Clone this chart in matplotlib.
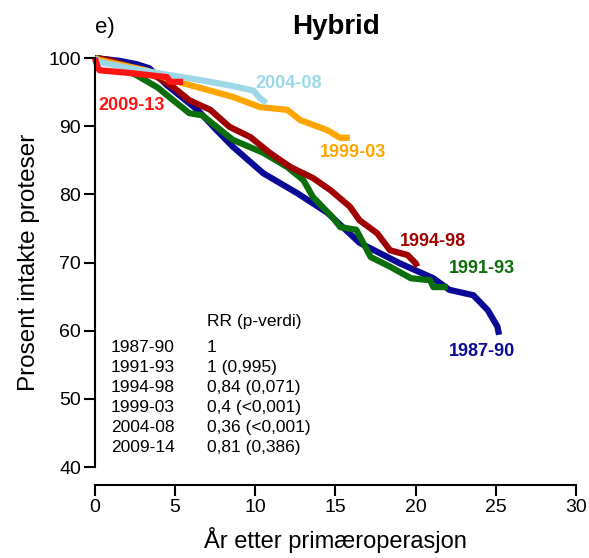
import matplotlib
matplotlib.use("Agg")
import matplotlib.pyplot as plt

plt.rcParams["font.family"] = ["Liberation Sans", "DejaVu Sans"]

# ── survival curves (years, percent intact) ──────────────────────────────────
x_8790 = [0, 1.5, 2.6, 3.4, 4.5, 6.4, 7.6, 8.6, 10.5, 12.6, 14.5, 16.5, 19.0, 21.1, 22.1, 23.6, 24.5, 25.1, 25.2]
y_8790 = [100, 99.6, 99.1, 98.5, 96.0, 92.4, 89.4, 87.0, 83.1, 80.2, 77.3, 72.9, 69.9, 67.7, 66.0, 65.2, 63.0, 60.6, 59.4]

x_9193 = [0, 0.9, 2.8, 3.9, 5.1, 5.9, 6.7, 7.6, 8.6, 10.1, 10.5, 12.0, 13.0, 13.6, 14.8, 15.3, 16.3, 17.2, 18.4, 19.7, 20.9, 21.1, 22.0]
y_9193 = [100, 99.7, 97.2, 95.7, 93.4, 91.9, 91.6, 89.9, 88.0, 86.5, 86.1, 84.0, 82.1, 79.6, 76.7, 75.2, 74.8, 70.8, 69.4, 67.7, 67.4, 66.4, 66.4]

x_9498 = [0, 0.9, 2.2, 3.9, 4.9, 5.9, 7.2, 8.4, 9.7, 10.9, 12.2, 13.6, 14.7, 15.9, 16.5, 17.6, 18.4, 19.5, 20.0, 20.1]
y_9498 = [100, 99.7, 98.7, 97.2, 95.7, 93.8, 92.4, 89.9, 88.4, 86.1, 84.0, 82.4, 80.6, 78.2, 76.2, 74.3, 71.8, 71.1, 69.9, 69.4]

x_9903 = [0, 0.3, 3.2, 4.7, 6.6, 8.6, 10.3, 12.0, 12.8, 13.6, 14.5, 15.3, 15.9]
y_9903 = [100, 99.7, 98.2, 96.8, 95.6, 94.3, 92.8, 92.4, 90.9, 90.2, 89.4, 88.3, 88.3]

x_0408 = [0, 0.3, 2.2, 4.9, 7.0, 9.0, 9.9, 10.3, 10.7]
y_0408 = [100, 99.4, 98.5, 97.4, 96.6, 95.7, 95.2, 94.1, 93.4]

x_0913 = [0, 0.2, 0.3, 2.2, 4.5, 4.7, 5.5]
y_0913 = [100, 98.5, 98.2, 97.8, 97.2, 96.5, 96.5]

# curve labels: text, x, y (data coords)
curve_labels = ["1987-90", "1991-93", "1994-98", "1999-03", "2004-08", "2009-13"]
label_x = [22.1, 22.1, 19.0, 14.0, 10.0, 0.2]
label_y = [56.9, 69.1, 73.1, 86.1, 96.3, 93.1]
colors = ["#0a0a96", "#0a6e0a", "#a00000", "#ffa500", "#9ed8e8", "#ff1414"]

# RR table
table_periods = ["1987-90", "1991-93", "1994-98", "1999-03", "2004-08", "2009-14"]
table_rr = ["1", "1 (0,995)", "0,84 (0,071)", "0,4 (<0,001)", "0,36 (<0,001)", "0,81 (0,386)"]

fig = plt.figure(figsize=(5.89, 5.58), dpi=100)
ax = fig.add_axes([0.161, 0.163, 0.817, 0.733])

curves = [(x_8790, y_8790), (x_9193, y_9193), (x_9498, y_9498),
          (x_9903, y_9903), (x_0408, y_0408), (x_0913, y_0913)]
for (xs, ys), c in zip(curves, colors):
    ax.plot(xs, ys, color=c, linewidth=4.5, clip_on=False, solid_capstyle="butt")

for t, lx, ly, c in zip(curve_labels, label_x, label_y, colors):
    ax.text(lx, ly, t, color=c, fontsize=13, fontweight="bold", ha="left", va="center")

ax.text(7.0, 61.4, "RR (p-verdi)", fontsize=12.5, ha="left", va="center")
for i, (p, rr) in enumerate(zip(table_periods, table_rr)):
    yy = 57.6 - i * 2.95
    ax.text(1.0, yy, p, fontsize=12.5, ha="left", va="center")
    ax.text(7.0, yy, rr, fontsize=12.5, ha="left", va="center")

ax.set_xlim(0, 30)
ax.set_ylim(40, 100)
ax.set_xticks(range(0, 31, 5))
ax.set_yticks(range(40, 101, 10))
ax.spines["top"].set_visible(False)
ax.spines["right"].set_visible(False)
ax.spines["bottom"].set_position(("outward", 13))
for s in ("left", "bottom"):
    ax.spines[s].set_linewidth(1.5)
ax.tick_params(direction="out", length=8, width=1.5, labelsize=14, pad=2)
ax.set_xlabel("År etter primæroperasjon", fontsize=17, labelpad=8)
ax.set_ylabel("Prosent intakte proteser", fontsize=17.5, labelpad=6)
fig.text(0.571, 0.952, "Hybrid", fontsize=20, fontweight="bold", ha="center", va="center")
fig.text(0.161, 0.95, "e)", fontsize=16, ha="left", va="center")

fig.savefig("out.png", dpi=100)
